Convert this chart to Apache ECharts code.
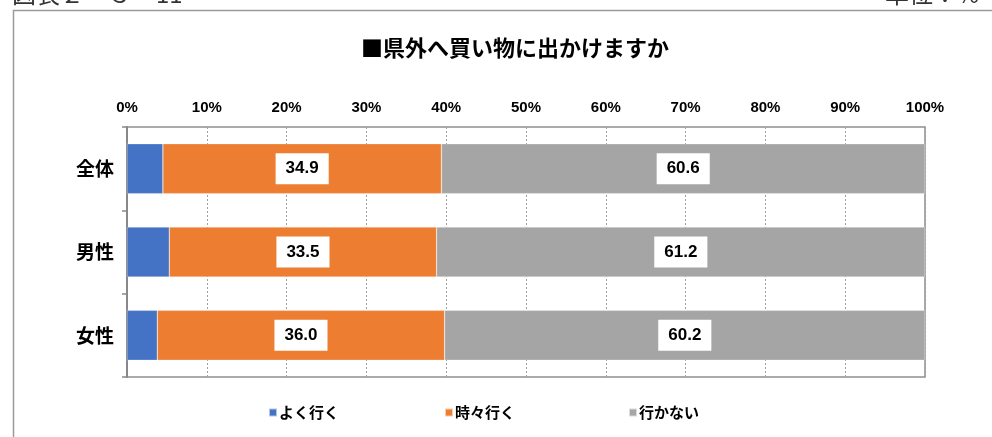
<!DOCTYPE html>
<html>
<head>
<meta charset="utf-8">
<script src="https://cdn.jsdelivr.net/npm/echarts@6/dist/echarts.min.js"></script>
<style>html,body{margin:0;padding:0;background:#fff;}#c{width:992px;height:437px;}</style>
</head>
<body>
<div id="c"></div>
<script>
const categories = ['全体', '男性', '女性'];
const seriesNames = ['よく行く', '時々行く', '行かない'];
const oftenGo = [4.5, 5.3, 3.8];
const sometimesGo = [34.9, 33.5, 36.0];
const neverGo = [60.6, 61.2, 60.2];
const tickLabels = ['0%','10%','20%','30%','40%','50%','60%','70%','80%','90%','100%'];

const FONT = '"Liberation Sans", "Noto Sans CJK JP", sans-serif';
const CJK = '"Noto Sans CJK JP", "Liberation Sans", sans-serif';
const colors = ['#4472C4', '#ED7D31', '#A5A5A5'];

const labelStyle = {
  show: true,
  position: 'inside',
  backgroundColor: '#fff',
  padding: [7, 10],
  color: '#000',
  fontWeight: 'bold',
  fontSize: 17,
  fontFamily: FONT,
  formatter: p => p.value.toFixed(1)
};

const chart = echarts.init(document.getElementById('c'), null, {renderer: 'canvas'});
const legendBase = {
  top: 400,
  itemWidth: 8, itemHeight: 8, itemGap: 0,
  icon: 'rect',
  textStyle: {fontSize: 15, fontWeight: 'bold', color: '#000', fontFamily: CJK, padding: [0, 0, 0, -3]}
};
chart.setOption({
  animation: false,
  backgroundColor: '#fff',
  color: colors,
  title: {
    text: '■県外へ買い物に出かけますか',
    left: 356, top: 32,
    textStyle: {fontSize: 22, fontWeight: 'bold', color: '#000', fontFamily: CJK}
  },
  legend: [
    Object.assign({}, legendBase, {left: 263, data: [seriesNames[0]]}),
    Object.assign({}, legendBase, {left: 439, data: [seriesNames[1]]}),
    Object.assign({}, legendBase, {left: 623, data: [seriesNames[2]]})
  ],
  graphic: [
    {type: 'rect', shape: {x: 13.5, y: 10.5, width: 1000, height: 500}, style: {fill: 'none', stroke: '#9a9a9a', lineWidth: 1.5}, silent: true},
    {type: 'text', left: 12, top: -18, style: {text: '図表２－３－11', fontSize: 24, fill: '#333', fontFamily: '"Noto Sans CJK JP", sans-serif'}},
    {type: 'text', left: 885, top: -18, style: {text: '単位：%', fontSize: 24, fill: '#333', fontFamily: '"Noto Sans CJK JP", sans-serif'}}
  ],
  grid: {
    left: 127, right: 67, top: 127, bottom: 60,
    show: true, borderColor: '#8f8f8f', borderWidth: 1.5, backgroundColor: '#fff'
  },
  xAxis: {
    type: 'value', position: 'top', min: 0, max: 100, interval: 10,
    axisLine: {show: false},
    axisTick: {show: false},
    axisLabel: {
      margin: 12, fontSize: 15, fontWeight: 'bold', color: '#000', fontFamily: FONT,
      formatter: (v) => tickLabels[Math.round(v / 10)]
    },
    splitLine: {show: true, lineStyle: {color: '#a0a0a0', type: [2, 2], width: 1}}
  },
  yAxis: {
    type: 'category', data: categories, inverse: true,
    axisLine: {show: true, lineStyle: {color: '#888', width: 2}},
    axisTick: {show: true, length: 5, lineStyle: {color: '#888', width: 1.5}},
    axisLabel: {margin: 13, fontSize: 19, fontWeight: 'bold', color: '#000', fontFamily: CJK}
  },
  series: [
    {name: seriesNames[0], type: 'bar', stack: 't', barWidth: 50, data: oftenGo,
     itemStyle: {borderColor: 'rgba(255,255,255,0.6)', borderWidth: 0.5}},
    {name: seriesNames[1], type: 'bar', stack: 't', barWidth: 50, data: sometimesGo, label: labelStyle,
     itemStyle: {borderColor: 'rgba(255,255,255,0.6)', borderWidth: 0.5}},
    {name: seriesNames[2], type: 'bar', stack: 't', barWidth: 50, data: neverGo, label: labelStyle,
     itemStyle: {borderColor: 'rgba(255,255,255,0.6)', borderWidth: 0.5}}
  ]
});
</script>
</body>
</html>
